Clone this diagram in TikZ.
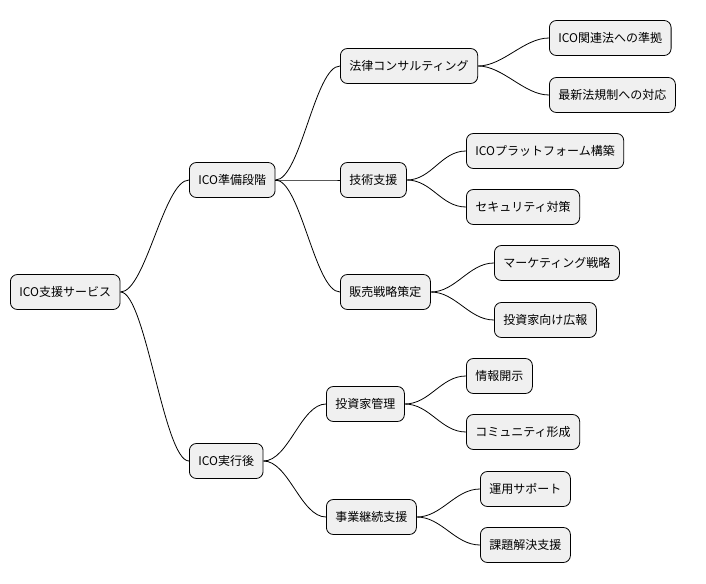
\documentclass[tikz,border=0pt]{standalone}
\usepackage{fontspec}
\setmainfont{Noto Sans CJK JP}
\begin{document}
\begin{tikzpicture}[x=1pt,y=-1pt,
  box/.style={draw=black,line width=0.8pt,fill=black!6,rounded corners=7pt,minimum height=35pt,inner xsep=9pt,anchor=west,font=\fontsize{12}{14}\selectfont},
  link/.style={line width=0.8pt}]
\useasboundingbox (0,0) rectangle (706,583);
\node[box] (r) at (10,292) {ICO支援サービス};
\node[box] (a) at (189,180) {ICO準備段階};
\node[box] (b) at (189,461) {ICO実行後};
\node[box] (a1) at (340,66) {法律コンサルティング};
\node[box] (a2) at (340,180) {技術支援};
\node[box] (a3) at (340,292) {販売戦略策定};
\node[box] (b1) at (326,404) {投資家管理};
\node[box] (b2) at (326,517) {事業継続支援};
\node[box] (a11) at (549,38) {ICO関連法への準拠};
\node[box] (a12) at (549,95) {最新法規制への対応};
\node[box] (a21) at (466,151) {ICOプラットフォーム構築};
\node[box] (a22) at (466,207) {セキュリティ対策};
\node[box] (a31) at (494,263) {マーケティング戦略};
\node[box] (a32) at (494,320) {投資家向け広報};
\node[box] (b11) at (466,376) {情報開示};
\node[box] (b12) at (466,432) {コミュニティ形成};
\node[box] (b21) at (480,489) {運用サポート};
\node[box] (b22) at (480,545) {課題解決支援};
\foreach \p/\c in {r/a,r/b,a/a1,a/a2,a/a3,b/b1,b/b2,a1/a11,a1/a12,a2/a21,a2/a22,a3/a31,a3/a32,b1/b11,b1/b12,b2/b21,b2/b22}
  \draw[link] (\p.east) .. controls +(25,0) and +(-25,0) .. (\c.west);
\end{tikzpicture}
\end{document}
